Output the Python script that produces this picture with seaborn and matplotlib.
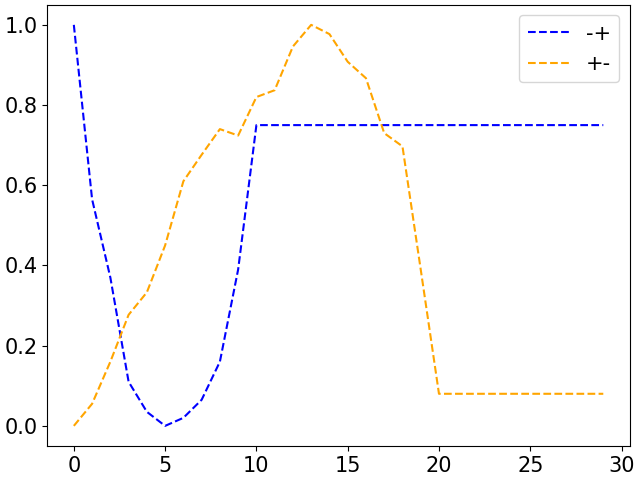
import numpy as np
import pandas as pd
import matplotlib
matplotlib.use('Agg')
import matplotlib.pyplot as plt
import seaborn as sns

# ------------- data -------------
steps = list(range(30))
minus_plus = [1.0, 0.565, 0.37, 0.11, 0.035, 0.0, 0.02, 0.065, 0.16, 0.39,
              0.75, 0.75, 0.75, 0.75, 0.75, 0.75, 0.75, 0.75, 0.75, 0.75,
              0.75, 0.75, 0.75, 0.75, 0.75, 0.75, 0.75, 0.75, 0.75, 0.75]
plus_minus = [0.0, 0.055, 0.16, 0.277, 0.333, 0.45, 0.61, 0.676, 0.74, 0.724,
              0.82, 0.837, 0.946, 1.0, 0.977, 0.908, 0.867, 0.73, 0.697, 0.39,
              0.08, 0.08, 0.08, 0.08, 0.08, 0.08, 0.08, 0.08, 0.08, 0.08]

plt.rcParams.update({'font.size': 15})

fig, ax = plt.subplots(figsize=(6.4, 4.8), dpi=100)
sns.lineplot(x=steps, y=minus_plus, ax=ax, color='blue', linestyle='--', label='-+')
sns.lineplot(x=steps, y=plus_minus, ax=ax, color='orange', linestyle='--', label='+-')

ax.legend(loc='upper right')
fig.subplots_adjust(left=0.074, right=0.984, bottom=0.071, top=0.99)
plt.savefig('out.png', dpi=100)
plt.close()
